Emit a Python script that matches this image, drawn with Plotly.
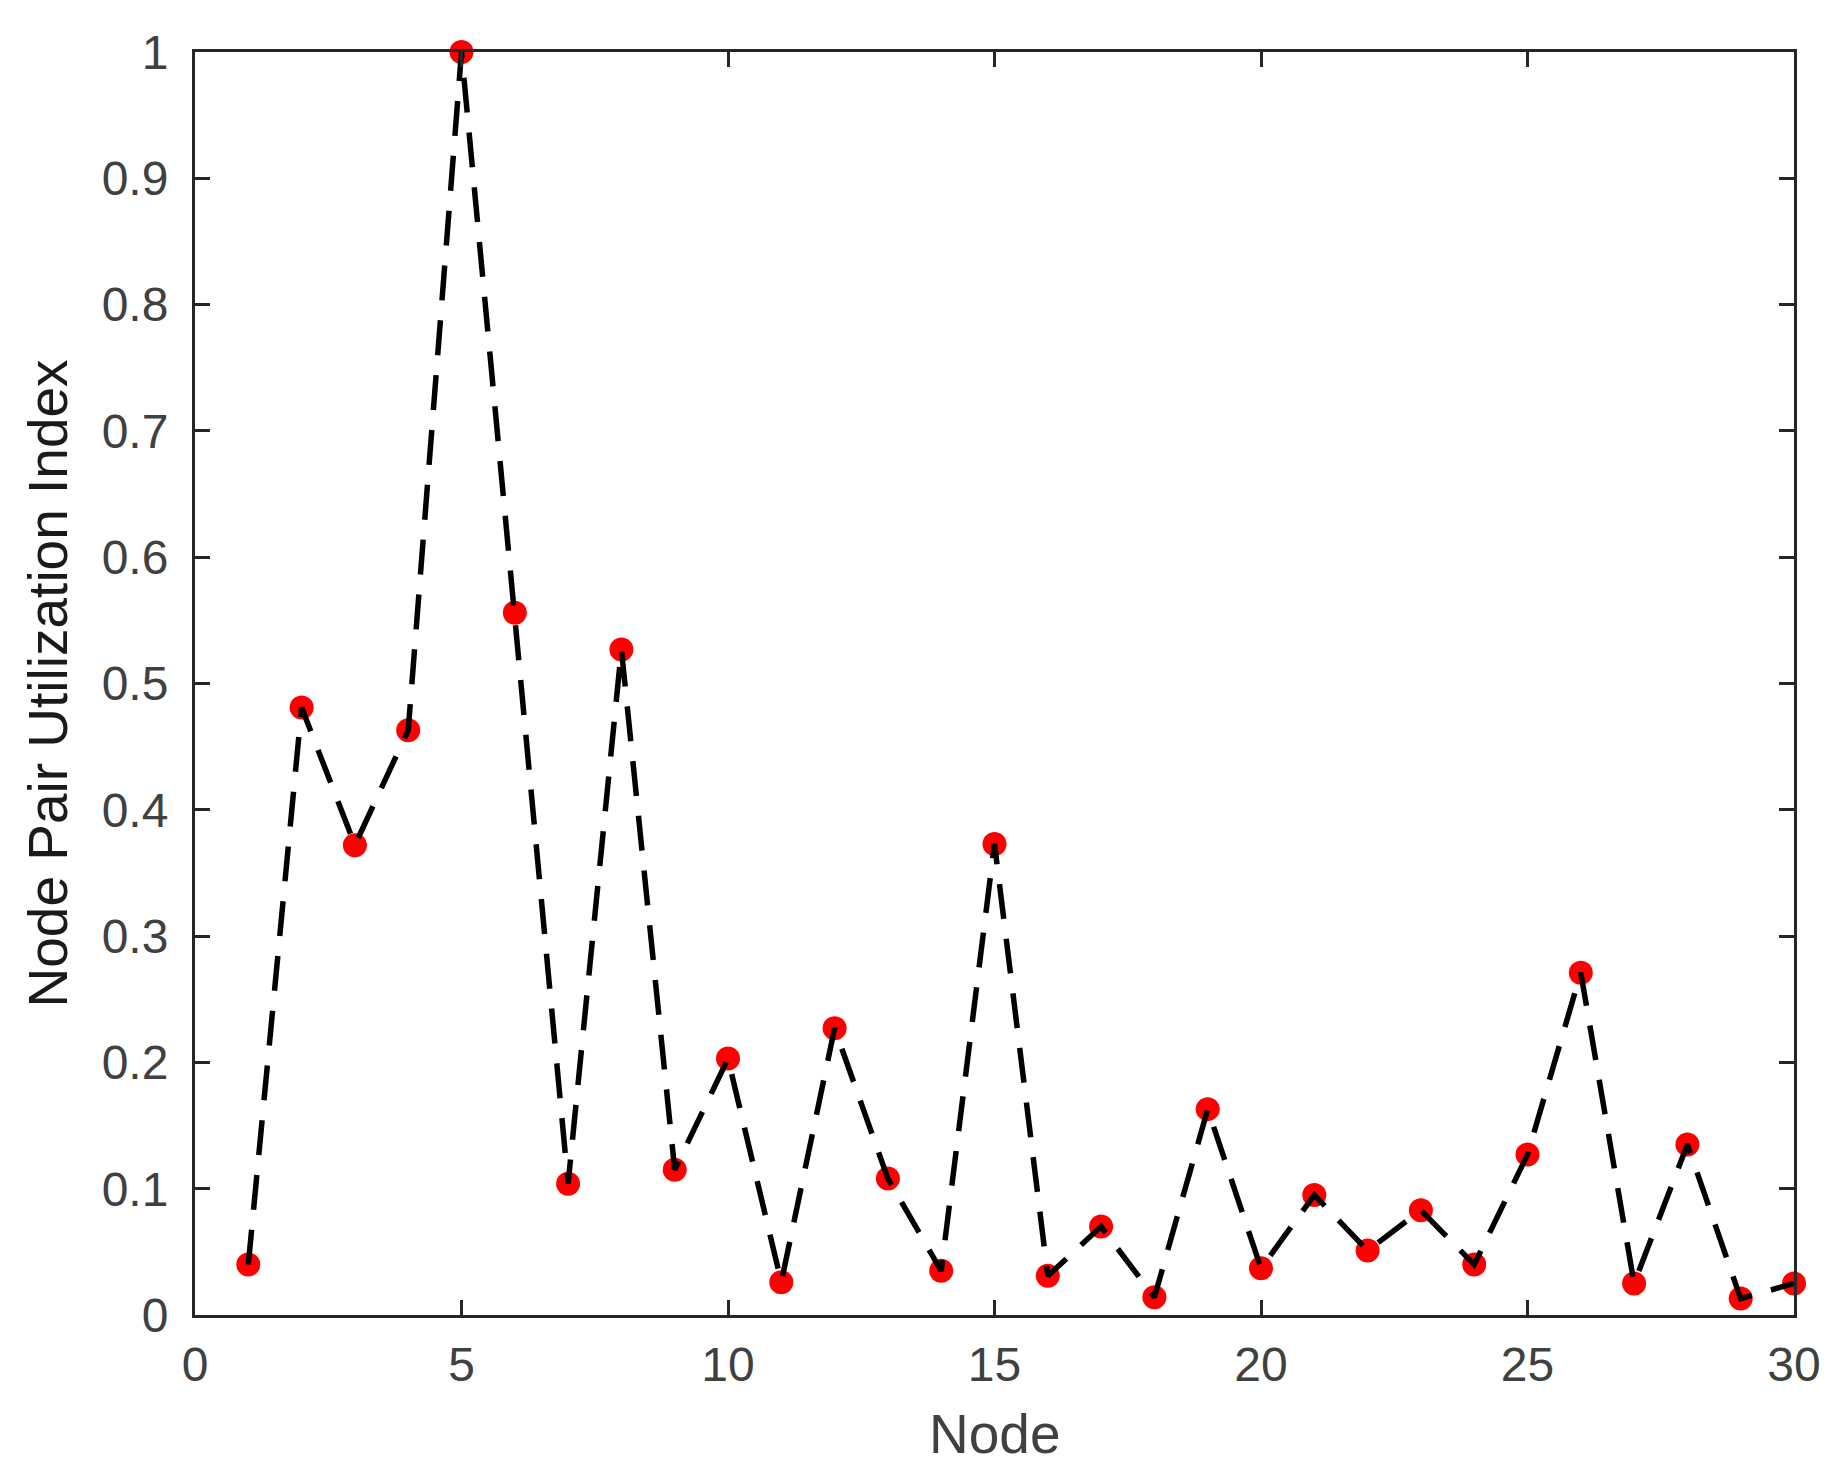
import plotly.graph_objects as go

nodes = list(range(1, 31))
utilization = [
    0.040, 0.481, 0.372, 0.463, 1.000, 0.556, 0.104, 0.527, 0.115, 0.203,
    0.026, 0.227, 0.108, 0.035, 0.373, 0.031, 0.070, 0.014, 0.163, 0.037,
    0.095, 0.051, 0.083, 0.040, 0.127, 0.271, 0.025, 0.135, 0.013, 0.025,
]
x_ticks = [0, 5, 10, 15, 20, 25, 30]
y_ticks = [0, 0.1, 0.2, 0.3, 0.4, 0.5, 0.6, 0.7, 0.8, 0.9, 1]
y_tick_text = ["0", "0.1", "0.2", "0.3", "0.4", "0.5", "0.6", "0.7", "0.8", "0.9", "1"]

axis_color = "#262626"
label_color = "#404040"
font_family = "Liberation Sans, Arial, sans-serif"

fig = go.Figure()

# markers first so the dashed line sits on top, like the original
fig.add_trace(
    go.Scatter(
        x=nodes,
        y=utilization,
        mode="markers",
        marker=dict(color="#ff0000", size=24, line=dict(width=0)),
        cliponaxis=False,
        showlegend=False,
    )
)
fig.add_trace(
    go.Scatter(
        x=nodes,
        y=utilization,
        mode="lines",
        line=dict(color="#000000", width=5.5, dash="35px,20px"),
        cliponaxis=False,
        showlegend=False,
    )
)

axis_common = dict(
    showgrid=False,
    zeroline=False,
    showline=True,
    linecolor=axis_color,
    linewidth=3,
    mirror="ticks",
    ticks="inside",
    ticklen=15,
    tickwidth=2.5,
    tickcolor=axis_color,
    tickfont=dict(family=font_family, size=48, color=label_color),
)

fig.update_layout(
    width=1829,
    height=1469,
    paper_bgcolor="white",
    plot_bgcolor="white",
    margin=dict(l=187, r=43, t=44, b=162),
    xaxis=dict(
        **axis_common,
        range=[0, 30],
        tickvals=x_ticks,
        ticklabelstandoff=5,
    ),
    yaxis=dict(
        **axis_common,
        range=[0, 1],
        tickvals=y_ticks,
        ticktext=y_tick_text,
        ticklabelstandoff=14,
    ),
)

# titles placed in pixel terms relative to the plot area
plot_w = 1829 - 187 - 43
plot_h = 1469 - 44 - 162
fig.add_annotation(
    text="Node",
    x=0.5,
    y=-(1426 - 1307) / plot_h,
    xref="paper",
    yref="paper",
    yanchor="middle",
    showarrow=False,
    font=dict(family=font_family, size=55, color=label_color),
)
fig.add_annotation(
    text="Node Pair Utilization Index",
    x=-(187 - 39) / plot_w,
    y=0.5,
    xref="paper",
    yref="paper",
    xanchor="center",
    textangle=-90,
    showarrow=False,
    font=dict(family=font_family, size=55, color="#1a1a1a"),
)

fig.write_html("out.html")
